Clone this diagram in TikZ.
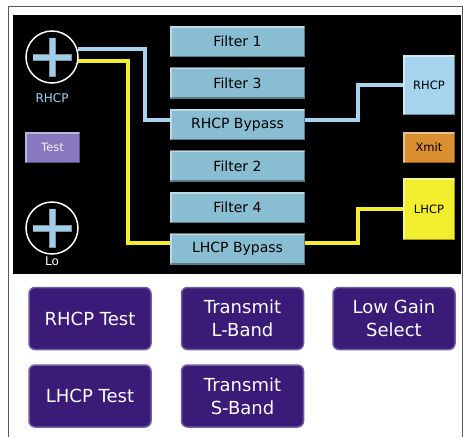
\documentclass[tikz,border=0pt]{standalone}
\usepackage{fontspec}
\setmainfont{DejaVu Sans}
\usepackage{tikz}
\usetikzlibrary{positioning}

\definecolor{wireblue}{HTML}{A6D3EE}
\definecolor{wireyellow}{HTML}{F2EE2E}
\definecolor{filterfill}{HTML}{88BDD2}
\definecolor{crossblue}{HTML}{9ECFEA}
\definecolor{xmitorange}{HTML}{D98E2F}
\definecolor{testlilac}{HTML}{8878C0}
\definecolor{btnpurple}{HTML}{3A1C78}
\definecolor{btnedge}{HTML}{6E5FA0}

\tikzset{
  bevel/.style={path picture={
    \draw[white, opacity=0.45, line width=3pt] (path picture bounding box.south west) -- (path picture bounding box.north west) -- (path picture bounding box.north east);
    \draw[black, opacity=0.35, line width=3pt] (path picture bounding box.north east) -- (path picture bounding box.south east) -- (path picture bounding box.south west);}},
  filterbox/.style={bevel, fill=filterfill, minimum width=135pt, minimum height=31pt, inner sep=0pt, font=\fontsize{14}{16}\selectfont},
  sidebox/.style={bevel, minimum width=52pt, inner sep=0pt, font=\fontsize{11.5}{13}\selectfont},
  antenna/.style={circle, draw=white, line width=1.5pt, minimum size=52pt, inner sep=0pt, path picture={
    \draw[line width=7pt, gray!80!crossblue] ([xshift=6.5pt]path picture bounding box.west) -- ([xshift=-6.5pt]path picture bounding box.east)
      ([yshift=-6.5pt]path picture bounding box.north) -- ([yshift=6.5pt]path picture bounding box.south);
    \draw[line width=5pt, crossblue] ([xshift=7pt]path picture bounding box.west) -- ([xshift=-7pt]path picture bounding box.east)
      ([yshift=-7pt]path picture bounding box.north) -- ([yshift=7pt]path picture bounding box.south);}},
  antlabel/.style={font=\fontsize{12}{14}\selectfont, inner sep=0pt},
  button/.style={rounded corners=6pt, fill=btnpurple, draw=btnedge, line width=1.5pt, minimum width=122pt, minimum height=62pt, text=white, align=center, font=\fontsize{18}{23}\selectfont},
  wire/.style={line width=4pt}
}

\begin{document}
\begin{tikzpicture}[x=1pt, y=-1pt]
\useasboundingbox (0,0) rectangle (463,437);
%frame and panel
\draw[gray!70!black, line width=1pt] (8,437) -- (8,6) -- (462,6) -- (462,437);
\fill[black] (13,15) rectangle (461,274);

%antennas
\node[antenna] (rhcpant) at (52,57) {};
\node[antlabel, text=wireblue, below=10pt of rhcpant] (rhcplbl) {RHCP};
\node[antenna] (loant) at (52,228) {};
\node[antlabel, text=white, below=2pt of loant] (lolbl) {Lo};
\node[sidebox, fill=testlilac, text=white!90!gray, minimum width=55pt, minimum height=31pt] (test) at (52.5,147.5) {Test};

%filters
\foreach \n/\t [count=\i] in {f1/Filter 1, f3/Filter 3, rbyp/RHCP Bypass, f2/Filter 2, f4/Filter 4, lbyp/LHCP Bypass}
	\node[filterbox] (\n) at (237.5,41.5*\i) {\t};

%outputs
\node[sidebox, fill=wireblue, minimum height=60pt] (rhcpout) at (429,85) {RHCP};
\node[sidebox, fill=xmitorange, minimum height=31pt] (xmit) at (429,147.5) {Xmit};
\node[sidebox, fill=wireyellow, minimum height=62pt] (lhcpout) at (429,209) {LHCP};

%wires
\draw[wire, wireblue] (rhcpant.17) -| ([xshift=-25pt,yshift=5pt]rbyp.west) -- ([yshift=5pt]rbyp.west);
\draw[wire, wireyellow] (rhcpant.-8) -| ([xshift=-42pt,yshift=6pt]lbyp.west) -- ([yshift=6pt]lbyp.west);
\draw[wire, wireblue] ([yshift=5pt]rbyp.east) -- ++(53,0) |- (rhcpout.west);
\draw[wire, wireyellow] ([yshift=6pt]lbyp.east) -- ++(53,0) |- (lhcpout.west);

%buttons
\node[button] (rtest) at (90,318.5) {RHCP Test};
\node[button] (txl) at (242.5,318.5) {Transmit\\L-Band};
\node[button] (lowgain) at (394,318.5) {Low Gain\\Select};
\node[button] (ltest) at (90,396) {LHCP Test};
\node[button] (txs) at (242.5,396) {Transmit\\S-Band};
\end{tikzpicture}
\end{document}
